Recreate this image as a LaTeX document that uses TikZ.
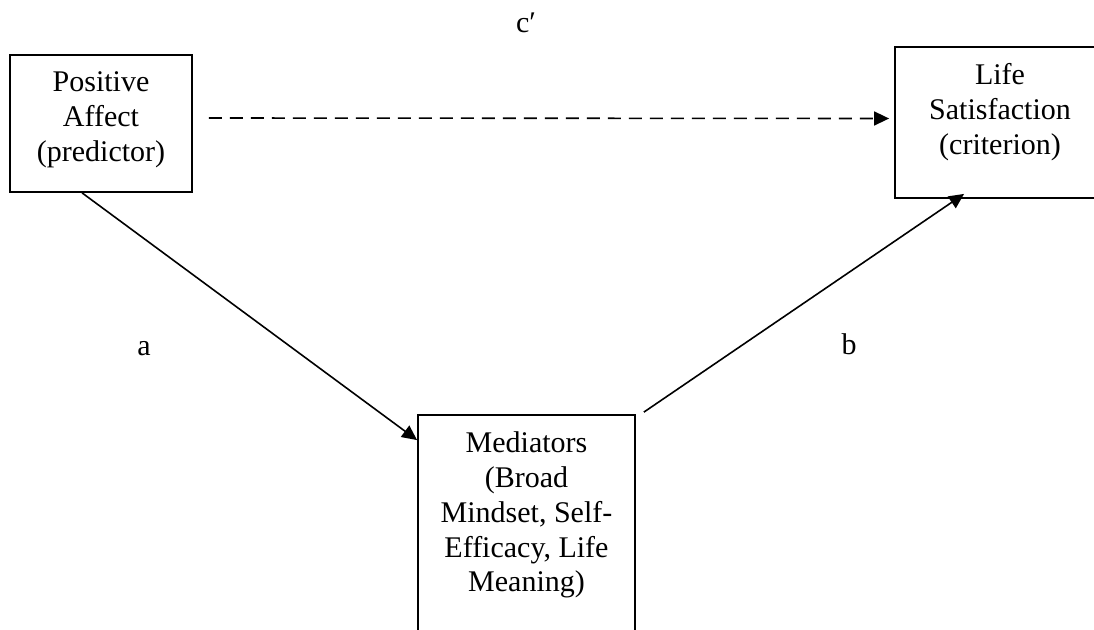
\documentclass[tikz,border=0pt]{standalone}
\usepackage{fontspec}
\setmainfont{Liberation Serif}
\usetikzlibrary{arrows.meta}
\begin{document}
\begin{tikzpicture}[x=1pt,y=-1pt,
  box/.style={draw, line width=1.8pt, inner sep=0pt},
  txt/.style={font=\fontsize{30}{34.8}\selectfont, align=center, inner sep=0pt, anchor=north},
  lbl/.style={font=\fontsize{30}{34.8}\selectfont, inner sep=0pt, anchor=base},
  conn/.style={line width=1.6pt, -{Triangle[length=15pt,width=14pt]}},
  dashconn/.style={conn, dash pattern=on 13pt off 8pt}]
\useasboundingbox (0,0) rectangle (1094,629);
\clip (0,0) rectangle (1094,629);
\node[box, minimum width=182pt, minimum height=137pt] (pa) at (101,123.5) {};
\node[box, minimum width=210pt, minimum height=151pt] (ls) at (1000,122.5) {};
\node[box, minimum width=217pt, minimum height=240pt] (med) at (526.5,535) {};
\node[txt] (pat) at ([yshift=-17.5pt]pa.north) {Positive\\Affect\\(predictor)};
\node[txt] (lst) at ([yshift=-17.5pt]ls.north) {Life\\Satisfaction\\(criterion)};
\node[txt] (medt) at ([yshift=-17.5pt]med.north) {Mediators\\(Broad\\Mindset, Self-\\Efficacy, Life\\Meaning)};
\draw[dashconn] ([xshift=16pt,yshift=5.5pt]pa.east) -- ([xshift=-5pt,yshift=4pt]ls.west);
\draw[conn] ([xshift=73pt]pa.south west) -- ([yshift=-26pt]med.north west);
\draw[conn] ([xshift=8pt,yshift=2pt]med.north east) -- ([xshift=70pt,yshift=5pt]ls.south west);
\node[lbl] (cp) at (526,32) {c′};
\node[lbl] (la) at (144,355) {a};
\node[lbl] (lb) at (849,354) {b};
\end{tikzpicture}
\end{document}
